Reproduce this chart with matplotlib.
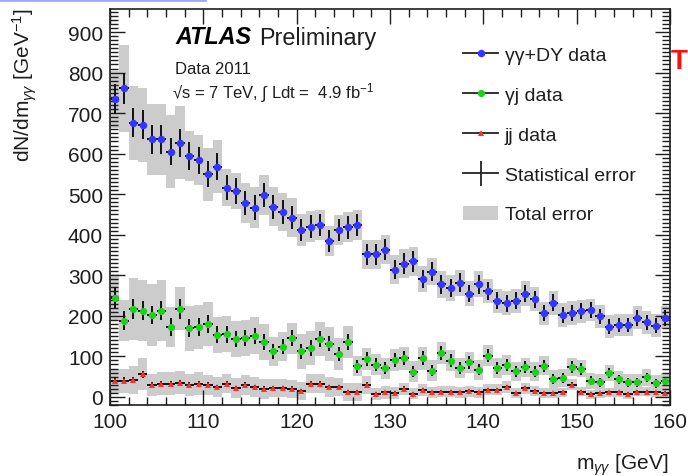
import numpy as np
import matplotlib
matplotlib.use("Agg")
from matplotlib import pyplot as plt
from matplotlib.lines import Line2D
from matplotlib.patches import Patch
from matplotlib.ticker import MultipleLocator

plt.rcParams['font.family'] = ['Liberation Sans', 'DejaVu Sans']
plt.rcParams['mathtext.fontset'] = 'custom'
plt.rcParams['mathtext.rm'] = 'Liberation Sans'
plt.rcParams['mathtext.it'] = 'Liberation Sans:italic'

# 1 GeV bins from 100 to 160 GeV
bin_lo = 100.0
bin_hi = 160.0
mass = np.arange(bin_lo + 0.5, bin_hi, 1.0)

gg_dy = [734, 761, 676, 671, 635, 635, 605, 627, 594, 584,
         549, 568, 516, 508, 478, 467, 498, 469, 456, 442,
         412, 420, 424, 385, 412, 418, 424, 352, 352, 363,
         314, 329, 334, 291, 309, 278, 268, 282, 255, 278,
         262, 237, 231, 237, 255, 241, 206, 232, 202, 207,
         211, 214, 199, 173, 177, 177, 195, 184, 176, 195]
gg_dy_stat = [37, 38, 36, 36, 35, 35, 34, 35, 34, 33,
              32, 33, 31, 31, 30, 30, 30, 30, 29, 29,
              28, 28, 28, 27, 28, 28, 28, 26, 26, 26,
              24, 25, 25, 23, 24, 23, 22, 23, 22, 23,
              22, 21, 21, 21, 22, 21, 20, 21, 19, 20,
              20, 20, 19, 18, 18, 18, 19, 18, 18, 19]
gg_dy_tot = [70, 108, 92, 92, 88, 88, 90, 90, 62, 62,
             66, 66, 45, 45, 50, 50, 50, 48, 48, 48,
             40, 38, 38, 37, 37, 37, 37, 36, 36, 36,
             35, 35, 35, 33, 33, 33, 32, 32, 32, 32,
             30, 30, 30, 30, 30, 30, 29, 29, 29, 29,
             28, 28, 28, 28, 28, 28, 28, 28, 28, 28]

gj = [245, 188, 217, 213, 202, 213, 172, 217, 169, 172,
      180, 153, 155, 143, 145, 151, 136, 112, 124, 145,
      112, 121, 143, 131, 106, 135, 76, 94, 79, 71,
      91, 95, 62, 95, 65, 108, 89, 71, 85, 67,
      102, 71, 79, 63, 73, 62, 77, 44, 47, 73,
      69, 40, 36, 59, 43, 36, 36, 48, 34, 38]
gj_stat = [25, 23, 24, 24, 23, 24, 22, 24, 22, 22,
           22, 21, 21, 20, 20, 20, 20, 18, 19, 20,
           18, 19, 20, 19, 18, 19, 16, 17, 16, 15,
           17, 17, 14, 17, 14, 18, 16, 15, 16, 14,
           17, 15, 15, 14, 15, 14, 15, 12, 12, 15,
           14, 11, 11, 13, 11, 11, 11, 12, 11, 11]
gj_tot = [58, 50, 76, 76, 76, 76, 49, 53, 55, 55,
          55, 45, 45, 45, 45, 45, 45, 35, 35, 38,
          42, 42, 42, 42, 40, 40, 25, 27, 26, 26,
          28, 28, 26, 28, 26, 28, 26, 25, 25, 25,
          25, 24, 24, 24, 24, 24, 24, 22, 22, 22,
          21, 20, 20, 20, 20, 20, 20, 20, 20, 20]

jj = [40, 40, 42, 56, 29, 33, 33, 35, 29, 33,
      29, 24, 33, 22, 29, 24, 20, 22, 22, 20,
      15, 33, 33, 24, 24, 13, 12, 29, 8, 11,
      10, 20, 8, 17, 11, 13, 13, 11, 14, 11,
      18, 18, 24, 9, 21, 14, 9, 9, 11, 30,
      13, 7, 9, 11, 11, 7, 13, 13, 11, 10]
jj_stat = [8, 8, 8, 9, 7, 7, 7, 7, 7, 7,
           7, 6, 7, 6, 7, 6, 6, 6, 6, 6,
           5, 7, 7, 6, 6, 5, 5, 7, 4, 4,
           4, 6, 4, 5, 4, 5, 5, 4, 5, 4,
           5, 5, 6, 4, 6, 5, 4, 4, 4, 7,
           5, 4, 4, 4, 4, 4, 5, 5, 4, 4]
jj_tot = [30, 30, 35, 40, 28, 28, 28, 28, 28, 28,
          25, 24, 24, 24, 24, 24, 24, 22, 22, 22,
          22, 24, 24, 24, 22, 22, 22, 22, 15, 15,
          15, 15, 14, 14, 14, 14, 14, 14, 14, 14,
          13, 13, 14, 12, 13, 12, 12, 12, 12, 14,
          12, 11, 11, 11, 11, 11, 11, 11, 11, 11]

series = [
    (gg_dy, gg_dy_stat, gg_dy_tot, '#3535ff', 'o', 5.4, '\u03b3\u03b3+DY data'),
    (gj, gj_stat, gj_tot, '#1ecf1e', 'o', 5.2, '\u03b3j data'),
    (jj, jj_stat, jj_tot, '#ff3030', '^', 4.8, 'jj data'),
]

txt = '#1e1e1e'
fig = plt.figure(figsize=(6.88, 4.77), dpi=100)
ax = fig.add_axes([110 / 688, 1 - 406 / 477, 560 / 688, 396.5 / 477])

# total error boxes first
for vals, stat, tot, col, mk, ms, lab in series:
    vals = np.array(vals, float)
    tot = np.array(tot, float)
    ax.bar(mass, 2 * tot, bottom=vals - tot, width=1.0, color='#cccccc',
           linewidth=0, zorder=1)

for vals, stat, tot, col, mk, ms, lab in series:
    ax.errorbar(mass, vals, yerr=stat, xerr=0.5, fmt='none', ecolor='#111111',
                elinewidth=1.4, capsize=0, zorder=2)
    ax.plot(mass, vals, linestyle='none', marker=mk, markersize=ms,
            color=col, markeredgewidth=0, zorder=3)

ax.set_xlim(bin_lo, bin_hi)
ax.set_ylim(-20, 958)
ax.xaxis.set_major_locator(MultipleLocator(10))
ax.xaxis.set_minor_locator(MultipleLocator(2))
ax.yaxis.set_major_locator(MultipleLocator(100))
ax.yaxis.set_minor_locator(MultipleLocator(10))
ax.tick_params(which='both', direction='in', top=True, right=True,
               colors=txt, labelsize=15, width=1.0)
ax.tick_params(which='major', length=11, pad=5)
ax.tick_params(which='minor', length=5.5)
for sp in ax.spines.values():
    sp.set_linewidth(1.2)
    sp.set_color(txt)

ax.text(175 / 688, 1 - 38 / 477, 'ATLAS', transform=fig.transFigure,
        fontsize=16.8, fontweight='bold', fontstyle='italic', va='center',
        color='black')
ax.text(259 / 688, 1 - 38 / 477, 'Preliminary', transform=fig.transFigure,
        fontsize=16.8, va='center', color=txt)
ax.text(175 / 688, 1 - 69 / 477, 'Data 2011', transform=fig.transFigure,
        fontsize=12, va='center', color=txt)
ax.text(172 / 688, 1 - 93 / 477,
        '\u221as = 7 TeV, \u222b Ldt =  4.9 fb$^{-1}$',
        transform=fig.transFigure, fontsize=12, va='center', color=txt)

handles = [
    Line2D([], [], color='#222222', lw=1.3, marker=s[4], markersize=s[5],
           markerfacecolor=s[3], markeredgewidth=0) for s in series
]
handles.append(Line2D([], [], color='#222222', lw=1.3, marker='|',
                      markersize=18, markeredgewidth=1.3))
handles.append(Patch(facecolor='#cccccc', edgecolor='none'))
labels = [s[6] for s in series] + ['Statistical error', 'Total error']
leg = ax.legend(handles, labels, loc='upper left',
                bbox_to_anchor=(463 / 688, 1 - 47 / 477),
                bbox_transform=fig.transFigure, frameon=False, fontsize=14,
                handlelength=1.8, handletextpad=0.35, labelspacing=1.15,
                borderpad=0, borderaxespad=0)
for t in leg.get_texts():
    t.set_color(txt)

fig.text(25 / 688, 1 - 8 / 477, 'dN/dm$_{\\gamma\\gamma}$ [GeV$^{-1}$]',
         rotation=90, ha='center', va='top', fontsize=15, color=txt)
fig.text(668 / 688, 1 - 465 / 477, 'm$_{\\gamma\\gamma}$ [GeV]',
         ha='right', va='center', fontsize=15, color=txt)

# bits of neighbouring content visible at the edges of the capture
fig.text(688 / 688, 1 - 62 / 477, 'T', color='#ff1010', fontsize=20,
         fontweight='bold', ha='right', va='center')
fig.add_artist(Line2D([0, 205 / 688], [1 - 1 / 477, 1 - 1 / 477],
                      color='#9fa8ff', lw=2, transform=fig.transFigure))

fig.savefig('out.png', dpi=100)
